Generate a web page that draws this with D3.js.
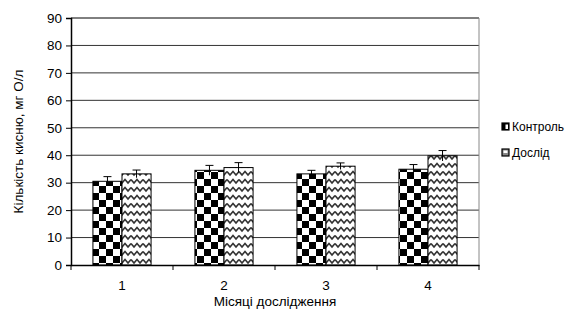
<!DOCTYPE html>
<html>
<head>
<meta charset="utf-8">
<script src="https://cdn.jsdelivr.net/npm/d3@7"></script>
<style>
  body { margin: 0; background: #fff; }
  text { font-family: "Liberation Sans", Arial, sans-serif; fill: #000; }
</style>
</head>
<body>
<svg id="chart" width="579" height="322"></svg>
<script>
// chart values
let months = ["1", "2", "3", "4"]
let series = ["Контроль", "Дослід"]
let control = [30.5, 34.5, 33.2, 34.9]
let controlErr = [1.7, 1.8, 1.3, 1.7]
let trial = [33.2, 35.5, 36.0, 39.8]
let trialErr = [1.4, 1.8, 1.2, 1.9]
let yTicks = [0, 10, 20, 30, 40, 50, 60, 70, 80, 90]

let margin = {left: 71, top: 18, right: 100, bottom: 57}
let width = 579 - margin.left - margin.right
let height = 322 - margin.top - margin.bottom

let svg = d3.select("#chart")
let defs = svg.append("defs")

// checkerboard
let chk = defs.append("pattern")
    .attr("id", "chk")
    .attr("patternUnits", "userSpaceOnUse")
    .attr("width", 14).attr("height", 14)
chk.append("rect").attr("width", 14).attr("height", 14).attr("fill", "#fff")
chk.append("rect").attr("width", 7).attr("height", 7).attr("fill", "#000")
chk.append("rect").attr("x", 7).attr("y", 7).attr("width", 7).attr("height", 7).attr("fill", "#000")

// wave pattern
let wav = defs.append("pattern")
    .attr("id", "wav")
    .attr("patternUnits", "userSpaceOnUse")
    .attr("width", 12).attr("height", 8)
wav.append("rect").attr("width", 12).attr("height", 8).attr("fill", "#fff")
wav.append("path")
    .attr("d", "M0,1.5 L3,5 L6,1.5 L9,5 L12,1.5")
    .attr("fill", "none").attr("stroke", "#333").attr("stroke-width", 1.6)

let g = svg.append("g").attr("transform", `translate(${margin.left},${margin.top})`)

let x = d3.scaleBand().domain(months).range([0, width]).paddingInner(0.43).paddingOuter(0.215)
let xs = d3.scaleBand().domain(series).range([0, x.bandwidth()])
let y = d3.scaleLinear().domain([0, 90]).range([height, 0])

// grid
g.selectAll(".grid")
    .data(yTicks.slice(1))
    .enter().append("line")
    .attr("x1", 0).attr("x2", width)
    .attr("y1", d => y(d)).attr("y2", d => y(d))
    .attr("stroke", d => d == 90 ? "#000" : "#333").attr("stroke-width", 1)
g.append("line")
    .attr("x1", width).attr("x2", width).attr("y1", 0).attr("y2", height)
    .attr("stroke", "#888").attr("stroke-width", 1)

let data = months.map((m, i) => [
    {m: m, s: series[0], v: control[i], e: controlErr[i]},
    {m: m, s: series[1], v: trial[i], e: trialErr[i]}
]).flat()

g.selectAll(".bar")
    .data(data)
    .enter().append("rect")
    .attr("x", d => x(d.m) + xs(d.s))
    .attr("y", d => y(d.v))
    .attr("width", xs.bandwidth())
    .attr("height", d => height - y(d.v))
    .attr("fill", d => d.s == series[0] ? "url(#chk)" : "url(#wav)")
    .attr("stroke", "#000").attr("stroke-width", 1)

// error bars
let eb = g.selectAll(".err").data(data).enter().append("g")
eb.append("line")
    .attr("x1", d => x(d.m) + xs(d.s) + xs.bandwidth() / 2)
    .attr("x2", d => x(d.m) + xs(d.s) + xs.bandwidth() / 2)
    .attr("y1", d => y(d.v - d.e)).attr("y2", d => y(d.v + d.e))
    .attr("stroke", "#000")
eb.append("line")
    .attr("x1", d => x(d.m) + xs(d.s) + xs.bandwidth() / 2 - 4)
    .attr("x2", d => x(d.m) + xs(d.s) + xs.bandwidth() / 2 + 4)
    .attr("y1", d => y(d.v + d.e)).attr("y2", d => y(d.v + d.e))
    .attr("stroke", "#000")

// axes
let yAxis = g.append("g")
    .call(d3.axisLeft(y).tickValues(yTicks).tickSize(5).tickPadding(4))
yAxis.select(".domain").attr("stroke", "#000").attr("stroke-width", 1.5)
yAxis.selectAll("text").style("font-size", "13.5px")

let xAxis = g.append("g")
    .attr("transform", `translate(0,${height})`)
    .call(d3.axisBottom(x).tickSize(0).tickPadding(15))
xAxis.select(".domain").attr("stroke", "#000").attr("stroke-width", 1.5)
xAxis.selectAll("text").style("font-size", "13.5px")

// boundary ticks between categories
let edges = d3.range(months.length + 1).map(i => i * width / months.length)
g.selectAll(".xtick")
    .data(edges)
    .enter().append("line")
    .attr("x1", d => d).attr("x2", d => d)
    .attr("y1", height).attr("y2", height + 5)
    .attr("stroke", "#000")

// titles
svg.append("text")
    .attr("transform", `translate(23,${margin.top + height / 2}) rotate(-90)`)
    .attr("text-anchor", "middle")
    .style("font-size", "13.5px")
    .text("Кількість кисню, мг О/л")

svg.append("text")
    .attr("x", margin.left + width / 2)
    .attr("y", 306)
    .attr("text-anchor", "middle")
    .style("font-size", "13.5px")
    .text("Місяці дослідження")

// legend
let leg = svg.selectAll(".leg")
    .data(series)
    .enter().append("g")
    .attr("transform", (d, i) => `translate(502,${123 + i * 26})`)
leg.append("rect")
    .attr("width", 7).attr("height", 7)
    .attr("fill", (d, i) => i == 0 ? "#000" : "#888")
    .attr("stroke", "#000").attr("stroke-width", 1.2)
leg.append("rect")
    .attr("x", (d, i) => i == 0 ? 3.5 : 1.5).attr("y", 1.5)
    .attr("width", (d, i) => i == 0 ? 2.5 : 4).attr("height", (d, i) => i == 0 ? 4.5 : 2.5)
    .attr("fill", "#fff")
leg.append("text")
    .attr("x", 10).attr("y", 7.5)
    .style("font-size", "12px")
    .text(d => d)
</script>
</body>
</html>
